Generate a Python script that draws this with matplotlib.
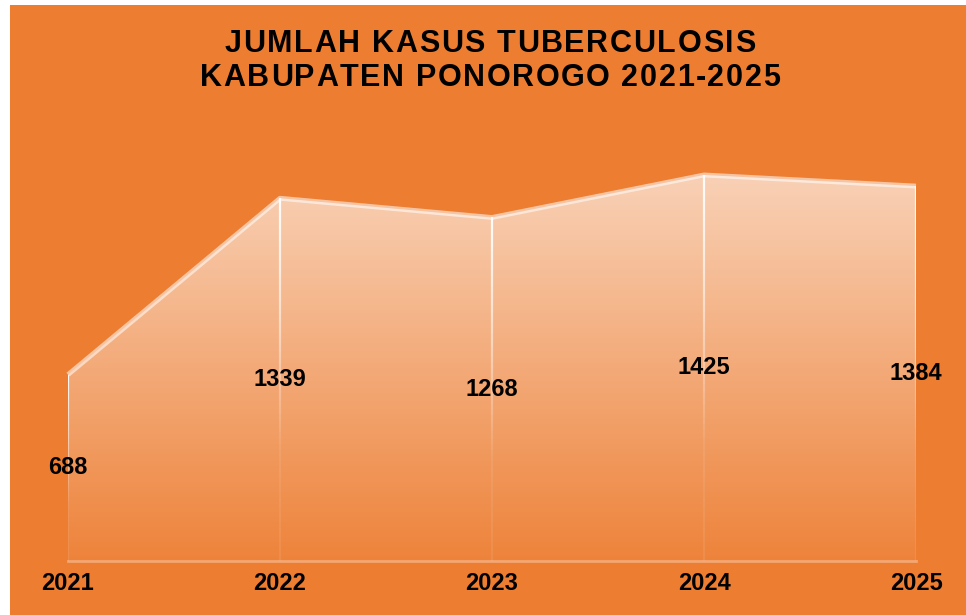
import numpy as np
import matplotlib.pyplot as plt
from matplotlib.patches import Polygon, Rectangle
from matplotlib.collections import LineCollection

years = ['2021', '2022', '2023', '2024', '2025']
cases = [688, 1339, 1268, 1425, 1384]
title_lines = ['JUMLAH KASUS TUBERCULOSIS', 'KABUPATEN PONOROGO 2021-2025']

orange = '#ED7D31'
W, H = 966, 615
plt.rcParams['font.family'] = ['Liberation Sans', 'DejaVu Sans']

fig = plt.figure(figsize=(W / 100, H / 100), dpi=100)
fig.patch.set_facecolor('white')
fig.patches.append(Rectangle((10 / W, 0), 1 - 10 / W, 1 - 5 / H, transform=fig.transFigure,
                             facecolor=orange, edgecolor='none', zorder=-5))

ymax = 1600
ax = fig.add_axes([68 / W, 54 / H, (916 - 68) / W, 0.2709 * ymax / H])
ax.set_xlim(0, len(years) - 1)
ax.set_ylim(0, ymax)
ax.axis('off')

x = np.arange(len(years))
y = np.array(cases)

# gradient area
verts = [(0, 0)] + list(zip(x, y)) + [(x[-1], 0)]
poly = Polygon(verts, closed=True, facecolor='none', edgecolor='none')
ax.add_patch(poly)
ny = 300
a = np.linspace(0.05, 0.05 + 0.6 * ymax / max(cases), ny)
grad = np.ones((ny, 2, 4))
grad[:, :, 3] = a[:, None]
im = ax.imshow(grad, extent=[0, x[-1], 0, ymax], origin='lower', aspect='auto',
               interpolation='bilinear', zorder=1)
im.set_clip_path(poly)

# top line
ax.plot(x, y, color='white', alpha=0.55, lw=3.5, solid_capstyle='butt', zorder=3, clip_on=False)

# fading drop lines
for xi, yi in zip(x, y):
    ys = np.linspace(yi, 0, 60)
    segs = [[(xi, ys[k]), (xi, ys[k + 1])] for k in range(len(ys) - 1)]
    al = np.clip(np.linspace(0.95, -0.3, len(segs)), 0.08, 1)
    cols = [(1, 1, 1, v) for v in al]
    ax.add_collection(LineCollection(segs, colors=cols, linewidths=1.6, zorder=4))

# baseline
ax.plot([0, x[-1]], [0, 0], color='#F4A673', lw=2, zorder=2, clip_on=False)

# data labels
for xi, yi in zip(x, y):
    ax.text(xi, yi / 2, str(yi), ha='center', va='center', fontsize=17,
            fontweight='bold', color='black', zorder=5)

# year labels
for xi, lab in zip(x, years):
    ax.text(xi, -22 / 0.2709, lab, ha='center', va='center', fontsize=17,
            fontweight='bold', color='black', clip_on=False)

# title with letter spacing
renderer = fig.canvas.get_renderer()
track = 1.6
for line, yc in zip(title_lines, [44, 78]):
    widths = []
    for ch in line:
        t = fig.text(0, 0, ch if ch != ' ' else 'i', fontsize=22, fontweight='bold')
        w = t.get_window_extent(renderer).width
        if ch == ' ':
            w = fig.text(0, 0, ' ', fontsize=22, fontweight='bold').get_window_extent(renderer).width
        widths.append(w)
        t.remove()
    total = sum(widths) + track * (len(line) - 1)
    xp = 490 - total / 2
    for ch, w in zip(line, widths):
        fig.text(xp / W, 1 - yc / H, ch, ha='left', va='center', fontsize=22,
                 fontweight='bold', color='black')
        xp += w + track

fig.savefig('out.png', dpi=100, facecolor=fig.get_facecolor())
